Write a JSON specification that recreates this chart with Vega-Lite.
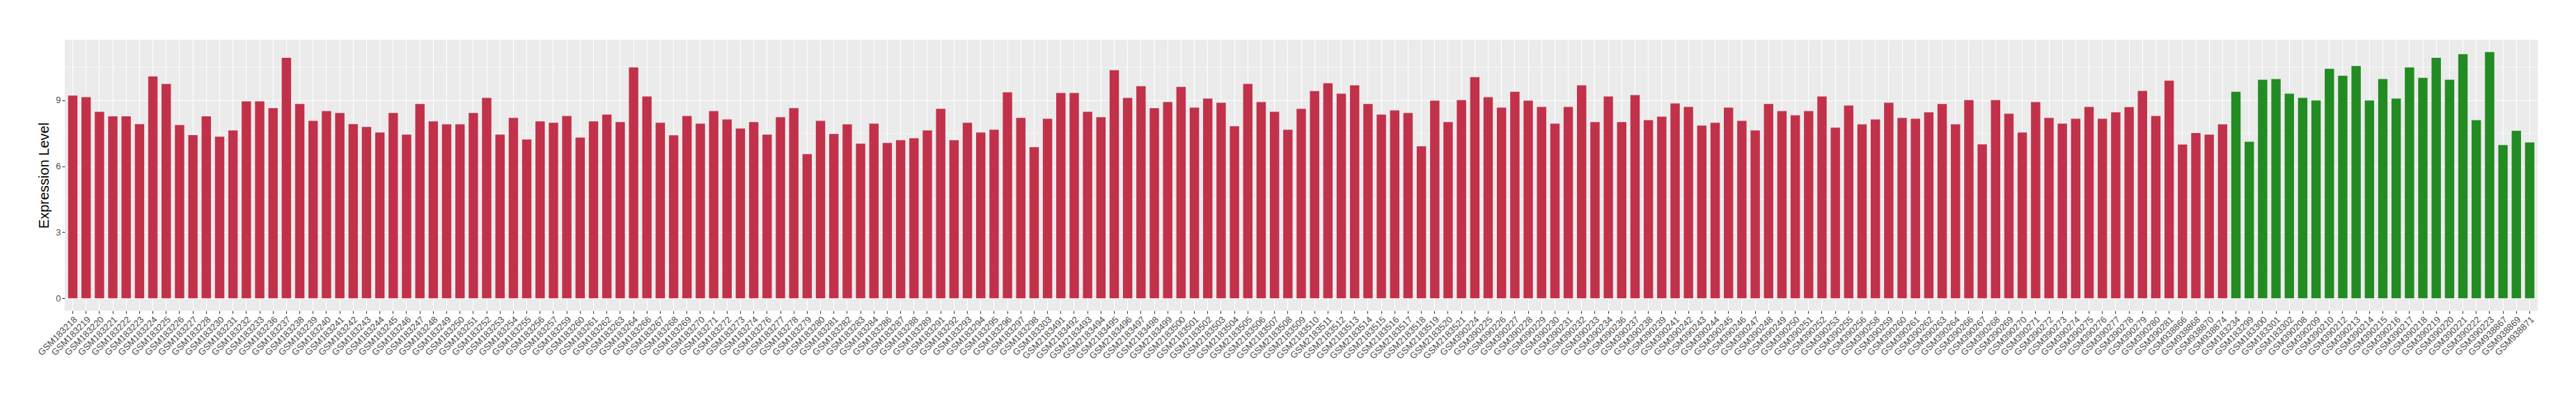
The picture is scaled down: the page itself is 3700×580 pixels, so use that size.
{
  "$schema": "https://vega.github.io/schema/vega-lite/v6.json",
  "autosize": "none",
  "width": 3552,
  "height": 389,
  "padding": {"left": 93, "top": 57, "right": 55, "bottom": 134},
  "background": "white",
  "config": {
    "view": {"fill": "#EBEBEB", "stroke": null},
    "font": "Liberation Sans"
  },
  "data": {"values": [
    {"s":"GSM183218","v":9.20,"g":"Case"},{"s":"GSM183219","v":9.13,"g":"Case"},{"s":"GSM183220","v":8.47,"g":"Case"},{"s":"GSM183221","v":8.26,"g":"Case"},{"s":"GSM183222","v":8.26,"g":"Case"},
    {"s":"GSM183223","v":7.91,"g":"Case"},{"s":"GSM183224","v":10.07,"g":"Case"},{"s":"GSM183225","v":9.73,"g":"Case"},{"s":"GSM183226","v":7.87,"g":"Case"},{"s":"GSM183227","v":7.41,"g":"Case"},
    {"s":"GSM183228","v":8.26,"g":"Case"},{"s":"GSM183230","v":7.34,"g":"Case"},{"s":"GSM183231","v":7.62,"g":"Case"},{"s":"GSM183232","v":8.94,"g":"Case"},{"s":"GSM183233","v":8.94,"g":"Case"},
    {"s":"GSM183236","v":8.63,"g":"Case"},{"s":"GSM183237","v":10.92,"g":"Case"},{"s":"GSM183238","v":8.82,"g":"Case"},{"s":"GSM183239","v":8.06,"g":"Case"},{"s":"GSM183240","v":8.50,"g":"Case"},
    {"s":"GSM183241","v":8.41,"g":"Case"},{"s":"GSM183242","v":7.91,"g":"Case"},{"s":"GSM183243","v":7.78,"g":"Case"},{"s":"GSM183244","v":7.53,"g":"Case"},{"s":"GSM183245","v":8.41,"g":"Case"},
    {"s":"GSM183246","v":7.43,"g":"Case"},{"s":"GSM183247","v":8.82,"g":"Case"},{"s":"GSM183248","v":8.03,"g":"Case"},{"s":"GSM183249","v":7.90,"g":"Case"},{"s":"GSM183250","v":7.90,"g":"Case"},
    {"s":"GSM183251","v":8.41,"g":"Case"},{"s":"GSM183252","v":9.10,"g":"Case"},{"s":"GSM183253","v":7.43,"g":"Case"},{"s":"GSM183254","v":8.19,"g":"Case"},{"s":"GSM183255","v":7.21,"g":"Case"},
    {"s":"GSM183256","v":8.03,"g":"Case"},{"s":"GSM183257","v":7.97,"g":"Case"},{"s":"GSM183259","v":8.28,"g":"Case"},{"s":"GSM183260","v":7.30,"g":"Case"},{"s":"GSM183261","v":8.03,"g":"Case"},
    {"s":"GSM183262","v":8.34,"g":"Case"},{"s":"GSM183263","v":8.00,"g":"Case"},{"s":"GSM183264","v":10.48,"g":"Case"},{"s":"GSM183266","v":9.16,"g":"Case"},{"s":"GSM183267","v":7.97,"g":"Case"},
    {"s":"GSM183268","v":7.40,"g":"Case"},{"s":"GSM183269","v":8.28,"g":"Case"},{"s":"GSM183270","v":7.93,"g":"Case"},{"s":"GSM183271","v":8.50,"g":"Case"},{"s":"GSM183272","v":8.12,"g":"Case"},
    {"s":"GSM183273","v":7.71,"g":"Case"},{"s":"GSM183274","v":8.00,"g":"Case"},{"s":"GSM183276","v":7.43,"g":"Case"},{"s":"GSM183277","v":8.22,"g":"Case"},{"s":"GSM183278","v":8.63,"g":"Case"},
    {"s":"GSM183279","v":6.55,"g":"Case"},{"s":"GSM183280","v":8.06,"g":"Case"},{"s":"GSM183281","v":7.46,"g":"Case"},{"s":"GSM183282","v":7.90,"g":"Case"},{"s":"GSM183283","v":7.02,"g":"Case"},
    {"s":"GSM183284","v":7.93,"g":"Case"},{"s":"GSM183286","v":7.05,"g":"Case"},{"s":"GSM183287","v":7.18,"g":"Case"},{"s":"GSM183288","v":7.27,"g":"Case"},{"s":"GSM183289","v":7.62,"g":"Case"},
    {"s":"GSM183291","v":8.60,"g":"Case"},{"s":"GSM183292","v":7.18,"g":"Case"},{"s":"GSM183293","v":7.97,"g":"Case"},{"s":"GSM183294","v":7.53,"g":"Case"},{"s":"GSM183295","v":7.65,"g":"Case"},
    {"s":"GSM183296","v":9.35,"g":"Case"},{"s":"GSM183297","v":8.19,"g":"Case"},{"s":"GSM183298","v":6.86,"g":"Case"},{"s":"GSM183303","v":8.15,"g":"Case"},{"s":"GSM2183491","v":9.32,"g":"Case"},
    {"s":"GSM2183492","v":9.32,"g":"Case"},{"s":"GSM2183493","v":8.47,"g":"Case"},{"s":"GSM2183494","v":8.22,"g":"Case"},{"s":"GSM2183495","v":10.36,"g":"Case"},{"s":"GSM2183496","v":9.10,"g":"Case"},
    {"s":"GSM2183497","v":9.63,"g":"Case"},{"s":"GSM2183498","v":8.63,"g":"Case"},{"s":"GSM2183499","v":8.91,"g":"Case"},{"s":"GSM2183500","v":9.60,"g":"Case"},{"s":"GSM2183501","v":8.66,"g":"Case"},
    {"s":"GSM2183502","v":9.07,"g":"Case"},{"s":"GSM2183503","v":8.88,"g":"Case"},{"s":"GSM2183504","v":7.81,"g":"Case"},{"s":"GSM2183505","v":9.73,"g":"Case"},{"s":"GSM2183506","v":8.91,"g":"Case"},
    {"s":"GSM2183507","v":8.47,"g":"Case"},{"s":"GSM2183508","v":7.65,"g":"Case"},{"s":"GSM2183509","v":8.60,"g":"Case"},{"s":"GSM2183510","v":9.41,"g":"Case"},{"s":"GSM2183511","v":9.76,"g":"Case"},
    {"s":"GSM2183512","v":9.29,"g":"Case"},{"s":"GSM2183513","v":9.67,"g":"Case"},{"s":"GSM2183514","v":8.82,"g":"Case"},{"s":"GSM2183515","v":8.34,"g":"Case"},{"s":"GSM2183516","v":8.53,"g":"Case"},
    {"s":"GSM2183517","v":8.41,"g":"Case"},{"s":"GSM2183518","v":6.90,"g":"Case"},{"s":"GSM2183519","v":8.97,"g":"Case"},{"s":"GSM2183520","v":8.00,"g":"Case"},{"s":"GSM2183521","v":9.00,"g":"Case"},
    {"s":"GSM390224","v":10.04,"g":"Case"},{"s":"GSM390225","v":9.13,"g":"Case"},{"s":"GSM390226","v":8.66,"g":"Case"},{"s":"GSM390227","v":9.38,"g":"Case"},{"s":"GSM390228","v":8.97,"g":"Case"},
    {"s":"GSM390229","v":8.69,"g":"Case"},{"s":"GSM390230","v":7.93,"g":"Case"},{"s":"GSM390231","v":8.69,"g":"Case"},{"s":"GSM390232","v":9.67,"g":"Case"},{"s":"GSM390233","v":8.00,"g":"Case"},
    {"s":"GSM390234","v":9.16,"g":"Case"},{"s":"GSM390236","v":8.00,"g":"Case"},{"s":"GSM390237","v":9.23,"g":"Case"},{"s":"GSM390238","v":8.09,"g":"Case"},{"s":"GSM390239","v":8.25,"g":"Case"},
    {"s":"GSM390241","v":8.85,"g":"Case"},{"s":"GSM390242","v":8.69,"g":"Case"},{"s":"GSM390243","v":7.84,"g":"Case"},{"s":"GSM390244","v":7.97,"g":"Case"},{"s":"GSM390245","v":8.66,"g":"Case"},
    {"s":"GSM390246","v":8.06,"g":"Case"},{"s":"GSM390247","v":7.62,"g":"Case"},{"s":"GSM390248","v":8.82,"g":"Case"},{"s":"GSM390249","v":8.50,"g":"Case"},{"s":"GSM390250","v":8.31,"g":"Case"},
    {"s":"GSM390251","v":8.50,"g":"Case"},{"s":"GSM390252","v":9.16,"g":"Case"},{"s":"GSM390253","v":7.75,"g":"Case"},{"s":"GSM390255","v":8.75,"g":"Case"},{"s":"GSM390256","v":7.90,"g":"Case"},
    {"s":"GSM390258","v":8.12,"g":"Case"},{"s":"GSM390259","v":8.88,"g":"Case"},{"s":"GSM390260","v":8.19,"g":"Case"},{"s":"GSM390261","v":8.15,"g":"Case"},{"s":"GSM390262","v":8.44,"g":"Case"},
    {"s":"GSM390263","v":8.82,"g":"Case"},{"s":"GSM390264","v":7.90,"g":"Case"},{"s":"GSM390266","v":9.00,"g":"Case"},{"s":"GSM390267","v":6.99,"g":"Case"},{"s":"GSM390268","v":9.00,"g":"Case"},
    {"s":"GSM390269","v":8.38,"g":"Case"},{"s":"GSM390270","v":7.53,"g":"Case"},{"s":"GSM390271","v":8.91,"g":"Case"},{"s":"GSM390272","v":8.19,"g":"Case"},{"s":"GSM390273","v":7.93,"g":"Case"},
    {"s":"GSM390274","v":8.15,"g":"Case"},{"s":"GSM390275","v":8.69,"g":"Case"},{"s":"GSM390276","v":8.15,"g":"Case"},{"s":"GSM390277","v":8.44,"g":"Case"},{"s":"GSM390278","v":8.68,"g":"Case"},
    {"s":"GSM390279","v":9.42,"g":"Case"},{"s":"GSM390280","v":8.28,"g":"Case"},{"s":"GSM390281","v":9.88,"g":"Case"},{"s":"GSM938866","v":6.98,"g":"Case"},{"s":"GSM938868","v":7.50,"g":"Case"},
    {"s":"GSM938870","v":7.43,"g":"Case"},{"s":"GSM938874","v":7.90,"g":"Case"},
    {"s":"GSM183234","v":9.38,"g":"Control"},{"s":"GSM183299","v":7.11,"g":"Control"},{"s":"GSM183300","v":9.92,"g":"Control"},{"s":"GSM183301","v":9.95,"g":"Control"},{"s":"GSM183302","v":9.29,"g":"Control"},
    {"s":"GSM390208","v":9.10,"g":"Control"},{"s":"GSM390209","v":8.98,"g":"Control"},{"s":"GSM390210","v":10.42,"g":"Control"},{"s":"GSM390212","v":10.10,"g":"Control"},{"s":"GSM390213","v":10.55,"g":"Control"},
    {"s":"GSM390214","v":8.98,"g":"Control"},{"s":"GSM390215","v":9.95,"g":"Control"},{"s":"GSM390216","v":9.07,"g":"Control"},{"s":"GSM390217","v":10.48,"g":"Control"},{"s":"GSM390218","v":10.01,"g":"Control"},
    {"s":"GSM390219","v":10.92,"g":"Control"},{"s":"GSM390220","v":9.92,"g":"Control"},{"s":"GSM390221","v":11.08,"g":"Control"},{"s":"GSM390222","v":8.09,"g":"Control"},{"s":"GSM390223","v":11.18,"g":"Control"},
    {"s":"GSM938867","v":6.96,"g":"Control"},{"s":"GSM938869","v":7.61,"g":"Control"},{"s":"GSM938871","v":7.08,"g":"Control"}
  ]},
  "encoding": {
    "x": {
      "field": "s", "type": "nominal", "sort": null,
      "scale": {"paddingInner": 0.3, "paddingOuter": 0.25},
      "axis": {
        "title": null, "labelAngle": -45, "labelAlign": "right", "labelBaseline": "top",
        "labelFont": "Liberation Sans", "labelFontSize": 13, "labelColor": "#4D4D4D",
        "labelOverlap": false, "labelBound": false, "labelPadding": 2, "labelLimit": 0,
        "domain": false, "tickColor": "#333333", "tickSize": 4, "tickWidth": 1.1,
        "grid": true, "gridColor": "#FFFFFF", "gridWidth": 1.1
      }
    }
  },
  "layer": [
    {
      "mark": {"type": "bar", "opacity": 0},
      "encoding": {
        "y": {
          "field": "v", "type": "quantitative", "stack": null,
          "scale": {"domain": [-0.559, 11.74], "nice": false, "zero": false},
          "axis": {
            "orient": "right", "values": [1.5, 4.5, 7.5, 10.5], "labels": false, "ticks": false,
            "domain": false, "title": null, "grid": true, "gridColor": "#FFFFFF", "gridWidth": 0.55,
            "minExtent": 0, "maxExtent": 0
          }
        }
      }
    },
    {
      "mark": {"type": "bar"},
      "encoding": {
        "y": {
          "field": "v", "type": "quantitative", "stack": null,
          "scale": {"domain": [-0.559, 11.74], "nice": false, "zero": false},
          "axis": {
            "values": [0, 3, 6, 9], "title": "Expression Level",
            "titleFont": "Liberation Sans", "titleFontSize": 20, "titleFontWeight": "normal", "titleColor": "#000000",
            "titlePadding": 6,
            "labelFont": "Liberation Sans", "labelFontSize": 13, "labelColor": "#4D4D4D", "labelPadding": 2,
            "domain": false, "tickColor": "#333333", "tickSize": 4, "tickWidth": 1.1,
            "grid": true, "gridColor": "#FFFFFF", "gridWidth": 1.1
          }
        },
        "y2": {"datum": 0},
        "color": {
          "field": "g", "type": "nominal",
          "scale": {"domain": ["Case", "Control"], "range": ["#C2314A", "#228B22"]},
          "legend": null
        }
      }
    }
  ],
  "resolve": {"axis": {"y": "independent"}}
}
